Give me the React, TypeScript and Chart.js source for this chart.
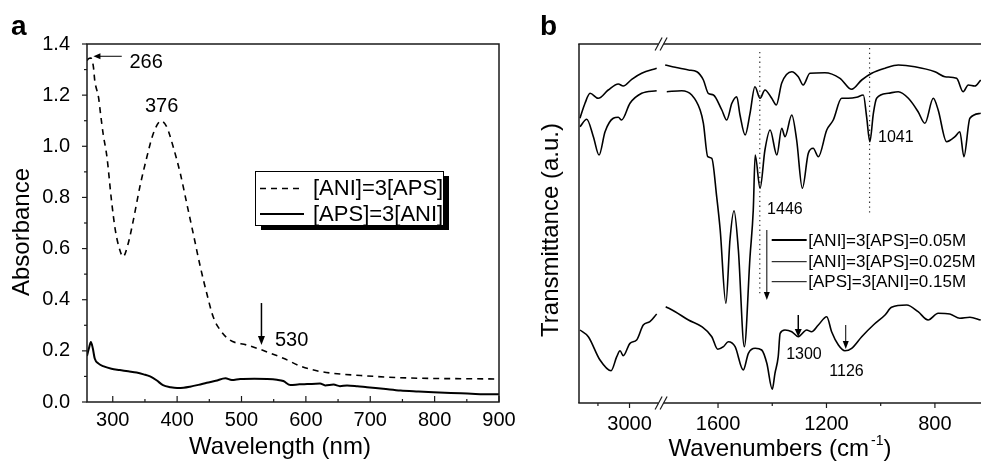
import React, { useEffect, useRef } from "react";
import { Chart, registerables } from "chart.js";

Chart.register(...registerables);

const FONT = "'Liberation Sans', Arial, Helvetica, sans-serif";
const INK = "#000000";
const AXIS = "#1a1a1a";

// ---------------- Panel a: UV-vis absorbance ----------------
const A_WL_TICKS = [300, 400, 500, 600, 700, 800, 900];
const A_WL_MINOR = [350, 450, 550, 650, 750, 850];
const A_ABS_TICKS = [0, 0.2, 0.4, 0.6, 0.8, 1.0, 1.2, 1.4];
const A_ABS_MINOR = [0.1, 0.3, 0.5, 0.7, 0.9, 1.1, 1.3];

const A_DASH_LABEL = "[ANI]=3[APS]";
const A_DASH_NM = [260, 262, 266, 270, 272, 278, 281, 285, 291, 298, 304, 311, 316, 324, 332, 342, 353, 363, 375, 384, 394, 405, 415, 425, 436, 446, 456, 467, 482, 508, 532, 565, 591, 617, 643, 695, 747, 799, 850, 900];
const A_DASH_ABS = [1.335, 1.342, 1.345, 1.31, 1.258, 1.19, 1.128, 1.05, 0.958, 0.789, 0.672, 0.594, 0.568, 0.62, 0.711, 0.84, 0.958, 1.05, 1.099, 1.075, 0.997, 0.893, 0.776, 0.659, 0.529, 0.425, 0.333, 0.281, 0.242, 0.223, 0.203, 0.171, 0.141, 0.122, 0.112, 0.102, 0.095, 0.092, 0.091, 0.09];

const A_SOLID_LABEL = "[APS]=3[ANI]";
const A_SOLID_NM = [260, 263, 266, 269, 272, 278, 285, 298, 311, 324, 337, 348, 358, 368, 378, 390, 400, 410, 420, 433, 446, 460, 475, 485, 498, 520, 540, 555, 565, 576, 590, 602, 622, 630, 643, 653, 664, 680, 695, 720, 747, 775, 798, 825, 851, 887, 900];
const A_SOLID_ABS = [0.18, 0.21, 0.235, 0.21, 0.17, 0.15, 0.14, 0.13, 0.125, 0.12, 0.115, 0.108, 0.1, 0.085, 0.066, 0.058, 0.055, 0.056, 0.06, 0.067, 0.075, 0.083, 0.093, 0.086, 0.09, 0.091, 0.09, 0.087, 0.082, 0.066, 0.069, 0.07, 0.072, 0.065, 0.068, 0.062, 0.065, 0.062, 0.058, 0.052, 0.045, 0.041, 0.038, 0.035, 0.033, 0.03, 0.03];

// ---------------- Panel b: FTIR transmittance ----------------
const B_MAJOR = [3000, 1600, 1200, 800];
const B_MINOR = [3200, 1400, 1000];
const B_LEFT_START = 3320;
const B_LEFT_END = 2800;
const B_RIGHT_START = 1810;
const B_RIGHT_END = 630;
const B_LEFT_K = 0.158;
const B_RIGHT_K = 0.2713;
const B_LEFT_SPAN = (B_LEFT_START - B_LEFT_END) * B_LEFT_K;
const B_MAX = B_LEFT_SPAN + (B_RIGHT_START - B_RIGHT_END) * B_RIGHT_K;
const tx = (wn: number) => (wn > 2300 ? (B_LEFT_START - wn) * B_LEFT_K : B_LEFT_SPAN + (B_RIGHT_START - wn) * B_RIGHT_K);

const B_TOP_LABEL = "[ANI]=3[APS]=0.05M";
const B_TOP_WN = [3314, 3282, 3250, 3198, 3135, 3071, 3040, 2986, 2923, 2828, 1795, 1758, 1709, 1678, 1654, 1636, 1617, 1586, 1568, 1549, 1531, 1519, 1500, 1482, 1464, 1445, 1427, 1402, 1385, 1365, 1328, 1304, 1286, 1261, 1206, 1150, 1107, 1070, 1033, 984, 935, 874, 800, 763, 720, 696, 677, 653, 631];
const B_TOP_T = [284.7, 299.7, 309.7, 304.7, 313, 319, 317, 323.7, 329.7, 334.7, 338, 335.7, 333, 331.3, 323, 309.7, 308, 293, 283, 299.7, 306.3, 288, 268, 289.7, 316.3, 304.7, 313, 304.7, 298, 320, 331.3, 326.3, 318, 329.7, 330.3, 324.7, 313.7, 323, 329.7, 334.7, 338, 336.3, 331.3, 326.3, 324.7, 311.3, 318, 317, 323];

const B_MID_LABEL = "[ANI]=3[APS]=0.025M";
const B_MID_WN = [3314, 3271, 3229, 3193, 3155, 3103, 3071, 3050, 2997, 2923, 2828, 1789, 1734, 1697, 1666, 1654, 1638, 1623, 1605, 1592, 1571, 1556, 1541, 1525, 1503, 1482, 1470, 1463, 1445, 1427, 1408, 1383, 1365, 1353, 1328, 1310, 1289, 1267, 1249, 1230, 1199, 1175, 1144, 1120, 1089, 1064, 1052, 1040, 1027, 1015, 972, 935, 898, 862, 837, 806, 788, 757, 726, 708, 693, 671, 631];
const B_MID_T = [276.3, 283.7, 266.3, 248, 271.3, 284.7, 285.7, 283, 299.7, 309.7, 312.3, 311.3, 312.3, 308, 293, 279.7, 246.3, 244.7, 206.3, 173, 99.7, 163, 192.3, 153, 56.3, 146.3, 193, 248, 214.7, 253, 273, 248, 274.7, 266.3, 288, 263, 214.7, 249.7, 254.7, 246.3, 273, 283, 304.7, 304.7, 305.7, 308, 286.3, 261.3, 289.7, 304.7, 309.7, 311.3, 304.7, 291.3, 279.7, 304.7, 293, 261.3, 266.3, 271.3, 246.3, 284.7, 289.7];

const B_BOT_LABEL = "[APS]=3[ANI]=0.15M";
const B_BOT_WN = [3314, 3261, 3187, 3117, 3081, 3060, 3040, 2997, 2955, 2913, 2871, 2828, 1793, 1758, 1709, 1660, 1623, 1601, 1580, 1562, 1537, 1507, 1488, 1463, 1439, 1420, 1400, 1390, 1378, 1371, 1353, 1328, 1304, 1273, 1255, 1230, 1199, 1181, 1156, 1132, 1107, 1070, 1027, 984, 960, 904, 862, 825, 788, 745, 708, 671, 631];
const B_BOT_T = [73, 66.3, 43, 32.3, 46.3, 52.3, 47.3, 59.7, 63, 78, 81.3, 89, 96.3, 91.3, 83, 76.3, 66.3, 53.7, 56.3, 61.3, 56.3, 33, 49.7, 54.7, 53, 39.7, 13.7, 29.7, 46.3, 69.7, 73, 71.3, 66.3, 73, 71.3, 78, 86.3, 71.3, 58, 52.3, 54.7, 66.3, 78, 88, 95.7, 98, 91.3, 83, 89.7, 89, 84.7, 85.7, 83];

const B_REF_LINES = [
  { wn: 1446, from: 351, to: 108 },
  { wn: 1041, from: 355, to: 190 },
];

// ---------------- helpers ----------------
function seg(ctx: CanvasRenderingContext2D, x1: number, y1: number, x2: number, y2: number) {
  ctx.beginPath();
  ctx.moveTo(x1, y1);
  ctx.lineTo(x2, y2);
  ctx.stroke();
}

function arrow(ctx: CanvasRenderingContext2D, x1: number, y1: number, x2: number, y2: number, lw: number, hl: number, hw: number) {
  const a = Math.atan2(y2 - y1, x2 - x1);
  const c = Math.cos(a), s = Math.sin(a);
  ctx.lineWidth = lw;
  seg(ctx, x1, y1, x2 - c * hl * 0.7, y2 - s * hl * 0.7);
  ctx.beginPath();
  ctx.moveTo(x2, y2);
  ctx.lineTo(x2 - c * hl + s * hw, y2 - s * hl - c * hw);
  ctx.lineTo(x2 - c * hl - s * hw, y2 - s * hl + c * hw);
  ctx.closePath();
  ctx.fill();
}

function toBData(wns: number[], vals: number[]) {
  const out: { x: number; y: number | null }[] = [];
  for (let i = 0; i < wns.length; i++) {
    if (i > 0 && wns[i - 1] > 2300 && wns[i] <= 2300) out.push({ x: tx(2300), y: null });
    out.push({ x: tx(wns[i]), y: vals[i] });
  }
  return out;
}

// ---------------- panel a plugin ----------------
const panelAPlugin = {
  id: "panelA",
  afterDraw(chart: any) {
    const { ctx, chartArea: ca, scales } = chart;
    const xs = scales.x, ys = scales.y;
    ctx.save();
    ctx.strokeStyle = AXIS;
    ctx.fillStyle = INK;
    ctx.lineWidth = 1.5;
    ctx.strokeRect(ca.left, ca.top, ca.right - ca.left, ca.bottom - ca.top);
    ctx.lineWidth = 1.2;
    A_ABS_TICKS.forEach((v) => { const y = ys.getPixelForValue(v); seg(ctx, ca.left - 5, y, ca.left, y); });
    A_ABS_MINOR.forEach((v) => { const y = ys.getPixelForValue(v); seg(ctx, ca.left - 3, y, ca.left, y); });
    A_WL_TICKS.forEach((v) => { const x = xs.getPixelForValue(v); seg(ctx, x, ca.bottom, x, ca.bottom - 6); });
    A_WL_MINOR.forEach((v) => { const x = xs.getPixelForValue(v); seg(ctx, x, ca.bottom, x, ca.bottom - 3); });

    // titles
    ctx.font = `24px ${FONT}`;
    ctx.textAlign = "center";
    ctx.textBaseline = "alphabetic";
    ctx.fillText("Wavelength (nm)", 280, 454);
    ctx.save();
    ctx.translate(22, 232);
    ctx.rotate(-Math.PI / 2);
    ctx.textBaseline = "middle";
    ctx.fillText("Absorbance", 0, 0);
    ctx.restore();

    // panel letter
    ctx.font = `bold 28px ${FONT}`;
    ctx.textAlign = "left";
    ctx.textBaseline = "alphabetic";
    ctx.fillText("a", 11, 35);

    // annotations
    ctx.font = `20px ${FONT}`;
    ctx.textBaseline = "middle";
    ctx.strokeStyle = INK;
    arrow(ctx, xs.getPixelForValue(314), ys.getPixelForValue(1.352), xs.getPixelForValue(270), ys.getPixelForValue(1.352), 1, 7, 3);
    ctx.textAlign = "left";
    ctx.fillText("266", xs.getPixelForValue(326), ys.getPixelForValue(1.328));
    ctx.textAlign = "center";
    ctx.fillText("376", xs.getPixelForValue(376), ys.getPixelForValue(1.156));
    arrow(ctx, xs.getPixelForValue(531), ys.getPixelForValue(0.387), xs.getPixelForValue(531), ys.getPixelForValue(0.223), 1.5, 9, 3.5);
    ctx.textAlign = "left";
    ctx.fillText("530", xs.getPixelForValue(552), ys.getPixelForValue(0.242));

    // legend with shadow
    const lx = 255, ly = 171, lw = 188, lh = 54;
    ctx.fillStyle = "#000";
    ctx.fillRect(lx + 6, ly + 5, lw, lh);
    ctx.fillStyle = "#fff";
    ctx.fillRect(lx, ly, lw, lh);
    ctx.lineWidth = 1;
    ctx.strokeStyle = "#000";
    ctx.strokeRect(lx + 0.5, ly + 0.5, lw, lh);
    ctx.lineWidth = 1.6;
    ctx.setLineDash([6, 5]);
    seg(ctx, 260, 188.5, 304, 188.5);
    ctx.setLineDash([]);
    ctx.lineWidth = 2;
    seg(ctx, 260, 214, 304, 214);
    ctx.fillStyle = INK;
    ctx.font = `22px ${FONT}`;
    ctx.textAlign = "left";
    ctx.textBaseline = "middle";
    ctx.fillText(A_DASH_LABEL, 313, 189);
    ctx.fillText(A_SOLID_LABEL, 313, 215);
    ctx.restore();
  },
};

// ---------------- panel b plugin ----------------
const panelBPlugin = {
  id: "panelB",
  afterDraw(chart: any) {
    const { ctx, chartArea: ca, scales } = chart;
    const xs = scales.x, ys = scales.y;
    const px = (wn: number) => xs.getPixelForValue(tx(wn));
    const py = (v: number) => ys.getPixelForValue(v);
    const bx = xs.getPixelForValue(B_LEFT_SPAN);
    ctx.save();
    ctx.strokeStyle = AXIS;
    ctx.fillStyle = INK;
    ctx.lineWidth = 1.5;
    seg(ctx, ca.left, ca.top, ca.left, ca.bottom);
    [ca.top, ca.bottom].forEach((y: number) => {
      seg(ctx, ca.left - 0.75, y, bx - 2.5, y);
      seg(ctx, bx + 2.5, y, ca.right, y);
    });
    ctx.lineWidth = 1.2;
    [ca.top, ca.bottom].forEach((y: number) => {
      [bx - 2.5, bx + 2.5].forEach((c) => seg(ctx, c - 3.5, y + 6.5, c + 3.5, y - 6.5));
    });
    B_MAJOR.forEach((w) => { const x = px(w); seg(ctx, x, ca.bottom, x, ca.bottom + 5); });
    B_MINOR.forEach((w) => { const x = px(w); seg(ctx, x, ca.bottom, x, ca.bottom + 3); });

    // titles
    ctx.font = `24px ${FONT}`;
    ctx.textBaseline = "alphabetic";
    const t1 = "Wavenumbers (cm", t2 = "-1", t3 = ")";
    const w1 = ctx.measureText(t1).width;
    const w3 = ctx.measureText(t3).width;
    ctx.font = `14px ${FONT}`;
    const w2 = ctx.measureText(t2).width;
    const cx = (ca.left + ca.right) / 2;
    const x0 = cx - (w1 + w2 + w3 + 2) / 2;
    ctx.textAlign = "left";
    ctx.font = `24px ${FONT}`;
    ctx.fillText(t1, x0, 456);
    ctx.font = `14px ${FONT}`;
    ctx.fillText(t2, x0 + w1 + 2, 445);
    ctx.font = `24px ${FONT}`;
    ctx.fillText(t3, x0 + w1 + w2 + 2, 456);

    ctx.save();
    ctx.translate(26, 230);
    ctx.rotate(-Math.PI / 2);
    ctx.textAlign = "center";
    ctx.textBaseline = "middle";
    ctx.fillText("Transmittance (a.u.)", 0, 0);
    ctx.restore();

    ctx.font = `bold 28px ${FONT}`;
    ctx.textAlign = "left";
    ctx.textBaseline = "alphabetic";
    ctx.fillText("b", 15, 35);

    // annotations
    ctx.font = `16px ${FONT}`;
    ctx.textBaseline = "middle";
    ctx.textAlign = "left";
    ctx.fillText("1446", px(1419), py(193));
    ctx.fillText("1041", px(1010), py(265));
    ctx.textAlign = "center";
    ctx.fillText("1300", px(1283), py(48));
    ctx.fillText("1126", px(1126), py(31));
    ctx.strokeStyle = INK;
    arrow(ctx, px(1304), py(88), px(1304), py(66), 1.5, 8, 3.5);
    arrow(ctx, px(1129), py(78), px(1129), py(54), 1, 8, 3);

    // legend
    const rows = [
      { label: B_TOP_LABEL, v: 163, w: 2 },
      { label: B_MID_LABEL, v: 141.3, w: 1 },
      { label: B_BOT_LABEL, v: 121.3, w: 1 },
    ];
    ctx.font = `17px ${FONT}`;
    ctx.textAlign = "left";
    ctx.textBaseline = "middle";
    rows.forEach((r) => {
      ctx.lineWidth = r.w;
      seg(ctx, px(1402), py(r.v), px(1273), py(r.v));
      ctx.fillText(r.label, px(1267), py(r.v) + 1);
    });
    arrow(ctx, px(1420), py(173), px(1420), py(103), 1, 8, 3);
    ctx.restore();
  },
};

// ---------------- chart configs ----------------
function makeA(): any {
  return {
    type: "line",
    data: {
      datasets: [
        {
          label: A_DASH_LABEL,
          data: A_DASH_NM.map((x, i) => ({ x, y: A_DASH_ABS[i] })),
          borderColor: INK,
          borderWidth: 1.6,
          borderDash: [6, 5],
          pointRadius: 0,
          cubicInterpolationMode: "monotone",
          fill: false,
        },
        {
          label: A_SOLID_LABEL,
          data: A_SOLID_NM.map((x, i) => ({ x, y: A_SOLID_ABS[i] })),
          borderColor: INK,
          borderWidth: 2,
          pointRadius: 0,
          cubicInterpolationMode: "monotone",
          fill: false,
        },
      ],
    },
    options: {
      animation: false,
      responsive: false,
      devicePixelRatio: 1,
      events: [],
      layout: { padding: { left: 0, top: 44, right: 26, bottom: 0 } },
      plugins: { legend: { display: false }, tooltip: { enabled: false } },
      scales: {
        x: {
          type: "linear",
          min: 260,
          max: 900,
          grid: { display: false },
          border: { display: false },
          afterBuildTicks: (s: any) => { s.ticks = A_WL_TICKS.map((v) => ({ value: v })); },
          afterFit: (s: any) => { s.height = 63; },
          ticks: { autoSkip: false, maxRotation: 0, color: INK, padding: -2, font: { family: FONT, size: 20 }, callback: (v: any) => String(v) },
        },
        y: {
          type: "linear",
          min: 0,
          max: 1.4,
          grid: { display: false },
          border: { display: false },
          afterBuildTicks: (s: any) => { s.ticks = A_ABS_TICKS.map((v) => ({ value: v })); },
          afterFit: (s: any) => { s.width = 87; },
          ticks: { autoSkip: false, color: INK, padding: 9, font: { family: FONT, size: 20 }, callback: (v: any) => Number(v).toFixed(1) },
        },
      },
    },
    plugins: [panelAPlugin],
  };
}

function makeB(): any {
  const series = [
    { label: B_TOP_LABEL, wn: B_TOP_WN, t: B_TOP_T },
    { label: B_MID_LABEL, wn: B_MID_WN, t: B_MID_T },
    { label: B_BOT_LABEL, wn: B_BOT_WN, t: B_BOT_T },
  ];
  const datasets: any[] = series.map((s) => ({
    label: s.label,
    data: toBData(s.wn, s.t),
    borderColor: INK,
    borderWidth: 1.6,
    pointRadius: 0,
    cubicInterpolationMode: "monotone",
    spanGaps: false,
    fill: false,
  }));
  B_REF_LINES.forEach((r) => {
    datasets.push({
      label: "ref" + r.wn,
      data: [{ x: tx(r.wn), y: r.from }, { x: tx(r.wn), y: r.to }],
      borderColor: "#333",
      borderWidth: 1.2,
      borderDash: [1.3, 3.5],
      pointRadius: 0,
      tension: 0,
      fill: false,
    });
  });
  return {
    type: "line",
    data: { datasets },
    options: {
      animation: false,
      responsive: false,
      devicePixelRatio: 1,
      events: [],
      layout: { padding: { left: 54, top: 44, right: 0, bottom: 0 } },
      plugins: { legend: { display: false }, tooltip: { enabled: false } },
      scales: {
        x: {
          type: "linear",
          min: 0,
          max: B_MAX,
          grid: { display: false },
          border: { display: false },
          afterBuildTicks: (s: any) => { s.ticks = B_MAJOR.map((w) => ({ value: tx(w) })); },
          afterFit: (s: any) => { s.height = 62; },
          ticks: { autoSkip: false, maxRotation: 0, color: INK, padding: 1, font: { family: FONT, size: 20 }, callback: (_v: any, i: number) => String(B_MAJOR[i]) },
        },
        y: { type: "linear", display: false, min: 0, max: 359 },
      },
    },
    plugins: [panelBPlugin],
  };
}

function ChartCanvas({ make, left, width }: { make: () => any; left: number; width: number }) {
  const ref = useRef<HTMLCanvasElement>(null);
  useEffect(() => {
    const chart = new Chart(ref.current as HTMLCanvasElement, make());
    return () => chart.destroy();
  }, []);
  return (
    <canvas
      ref={ref}
      width={width}
      height={465}
      style={{ position: "absolute", left, top: 0, width, height: 465 }}
    />
  );
}

export default function App() {
  return (
    <div style={{ position: "absolute", left: 0, top: 0, width: 981, height: 465, background: "#fff", overflow: "hidden" }}>
      <ChartCanvas make={makeA} left={0} width={525} />
      <ChartCanvas make={makeB} left={525} width={456} />
    </div>
  );
}
